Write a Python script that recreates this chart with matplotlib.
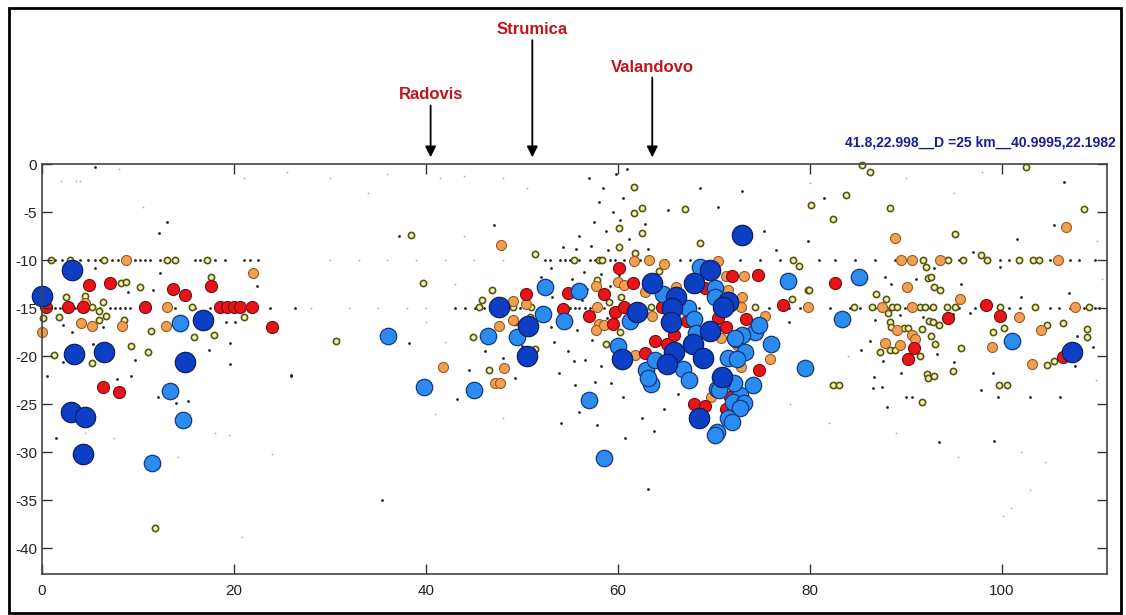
import matplotlib
matplotlib.use("Agg")
import matplotlib.pyplot as plt
import numpy as np
from matplotlib.patches import Rectangle

# hypocentres along the profile (distance km, depth km), grouped by magnitude class
dark_blue = [(0.0, -13.7), (3.1, -11.0), (3.3, -19.8), (3.0, -25.8), (4.5, -26.4), (4.3, -30.2),
             (6.5, -19.6), (16.8, -16.2), (14.9, -20.6), (47.6, -14.9), (50.7, -16.9), (50.5, -20.0),
             (60.4, -20.3), (62.0, -15.4), (72.9, -7.4), (69.6, -11.0), (68.0, -12.4), (63.6, -12.4),
             (66.1, -13.9), (65.7, -15.0), (71.5, -14.4), (71.0, -14.9), (65.6, -16.5), (69.6, -17.4),
             (67.8, -18.7), (68.9, -20.2), (65.9, -19.6), (65.1, -20.8), (70.9, -22.2), (68.5, -26.5),
             (107.3, -19.6)]

light_blue = [(14.4, -16.6), (13.3, -23.6), (14.7, -26.7), (11.5, -31.1), (36.1, -17.9),
              (39.8, -23.2), (45.0, -23.5), (46.5, -17.9), (49.5, -18.0), (52.2, -15.6), (54.4, -16.4),
              (52.4, -12.8), (56.0, -13.2), (57.0, -24.6), (58.6, -30.6), (60.0, -19.0),
              (64.7, -13.5), (67.3, -15.0), (68.0, -16.1), (70.1, -12.9), (70.1, -13.8), (68.6, -10.7),
              (77.7, -12.2), (61.3, -16.4), (62.9, -21.5), (63.5, -22.9), (66.8, -21.3), (67.4, -22.5),
              (63.9, -20.4), (68.2, -17.6), (72.3, -18.2), (74.3, -17.5), (74.7, -16.8), (76.0, -18.7),
              (73.3, -19.6), (71.5, -20.2), (72.4, -20.3), (74.1, -23.0), (70.3, -23.4), (72.7, -24.1),
              (72.0, -24.8), (73.2, -24.9), (72.7, -25.4), (71.5, -26.5), (71.9, -26.9), (70.3, -27.9),
              (70.1, -28.2), (79.5, -21.2), (72.9, -17.8), (72.1, -22.8), (70.9, -22.7), (63.2, -22.3),
              (70.6, -23.5), (72.2, -18.1), (85.1, -11.8), (83.4, -16.1), (101.1, -18.4)]

red = [(0.4, -14.9), (2.7, -14.9), (4.3, -14.9), (4.9, -12.6), (7.1, -12.4), (13.7, -13.0),
       (14.9, -13.6), (17.6, -12.7), (10.7, -14.9), (18.6, -14.9), (19.3, -14.9), (20.0, -14.9),
       (20.6, -14.9), (21.9, -14.9), (24.0, -17.0), (6.4, -23.2), (8.0, -23.7),
       (50.4, -13.5), (54.8, -13.4), (54.3, -15.1), (57.0, -15.8), (58.6, -13.5), (59.7, -15.4),
       (60.7, -14.9), (59.5, -16.7), (61.6, -12.4), (60.1, -10.8), (71.9, -11.7), (74.6, -11.6),
       (69.1, -12.9), (77.2, -14.7), (73.4, -16.1), (70.5, -16.0), (71.3, -17.0), (64.6, -14.9),
       (65.9, -17.8), (63.9, -18.4), (62.8, -19.7), (65.1, -18.7), (74.7, -21.5), (67.9, -25.0),
       (69.1, -25.2), (71.3, -25.5), (71.7, -24.3), (67.2, -16.3),
       (82.6, -12.4), (98.4, -14.7), (99.8, -15.8), (94.4, -16.0), (90.9, -19.2), (90.2, -20.3),
       (106.4, -20.1)]

orange = [(8.8, -10.0), (22.0, -11.3), (4.5, -14.5), (13.0, -14.9), (4.1, -16.6), (5.2, -16.9),
          (8.3, -16.9), (12.9, -16.9), (0.0, -17.5),
          (47.8, -8.4), (41.8, -21.1), (48.2, -21.2), (47.2, -22.8), (47.7, -22.8), (49.1, -16.2),
          (47.6, -16.9), (49.1, -14.3), (50.4, -14.6), (61.8, -19.9), (61.7, -10.1), (63.3, -10.0),
          (64.8, -10.4), (70.4, -10.1), (71.3, -11.7), (73.2, -11.7), (71.5, -13.1), (72.9, -13.9),
          (72.8, -14.9), (75.3, -15.8), (75.9, -20.3), (70.8, -18.1), (72.4, -18.9), (57.8, -14.9),
          (57.7, -12.7), (60.0, -12.3), (60.7, -12.6), (58.0, -16.7), (57.7, -17.3), (58.6, -16.8),
          (69.7, -24.3), (79.8, -14.9), (62.8, -13.3), (63.6, -15.8), (66.1, -12.8), (72.8, -21.1),
          (88.9, -7.7), (106.7, -6.6), (89.5, -10.0), (90.7, -10.0), (93.6, -10.0), (105.9, -10.0),
          (90.1, -12.8), (95.7, -14.1), (87.5, -14.9), (90.7, -14.9), (107.7, -14.9), (101.8, -15.9),
          (89.1, -17.3), (90.7, -17.8), (91.0, -18.2), (104.1, -17.3), (87.9, -18.6), (89.4, -18.8),
          (99.0, -19.1), (103.2, -20.8)]

yellow = [(0.9, -10.0), (2.9, -10.0), (6.5, -10.0), (13.0, -10.0), (13.9, -10.0), (17.2, -10.0),
          (8.2, -12.4), (8.8, -12.3), (10.2, -12.8), (17.6, -11.8), (2.5, -13.9), (4.5, -13.7),
          (5.2, -14.9), (5.9, -15.3), (6.4, -14.4), (1.8, -15.9), (5.9, -16.2), (6.7, -15.8),
          (8.5, -16.2), (11.4, -17.4), (15.6, -14.9), (15.8, -18.0), (17.9, -17.8), (21.0, -15.9),
          (9.3, -19.0), (11.0, -19.6), (1.2, -19.9), (5.2, -20.7), (0.1, -16.0), (30.6, -18.4),
          (11.8, -37.9),
          (38.5, -7.4), (39.7, -12.4), (44.9, -18.0), (45.5, -14.9), (45.9, -14.2), (46.9, -13.1),
          (51.4, -9.4), (55.4, -10.0), (58.1, -10.0), (58.4, -10.0), (61.7, -2.4), (61.7, -5.1),
          (62.5, -4.6), (60.1, -6.7), (62.5, -7.2), (60.1, -8.6), (61.8, -9.3), (67.0, -4.7),
          (68.6, -8.2), (64.3, -11.1), (74.3, -14.9), (57.8, -12.1), (60.3, -13.8), (59.1, -14.4),
          (51.0, -14.9), (49.1, -14.9), (50.9, -15.9), (49.3, -16.5), (58.8, -18.7), (60.2, -17.5),
          (63.5, -14.9), (46.6, -21.5), (51.4, -19.3), (78.3, -10.0), (78.9, -10.6), (78.2, -14.1),
          (79.8, -13.1),
          (85.5, -0.1), (86.3, -0.8), (102.6, -0.3), (83.8, -3.2), (80.1, -4.3), (82.4, -5.7),
          (88.4, -4.6), (108.6, -4.7), (95.2, -7.3), (91.8, -10.0), (94.4, -10.0), (96.0, -10.0),
          (97.9, -9.5), (98.5, -10.0), (101.8, -10.0), (103.3, -10.0), (103.9, -10.0), (92.1, -10.7),
          (92.3, -11.9), (92.7, -11.8), (93.0, -12.8), (93.6, -13.1), (79.9, -13.1), (86.9, -13.5),
          (88.0, -14.1), (84.6, -14.9), (86.5, -14.9), (88.6, -14.9), (89.1, -14.9), (91.5, -14.9),
          (92.0, -14.9), (92.9, -14.9), (94.3, -14.9), (95.2, -14.9), (99.8, -14.9), (103.5, -14.9),
          (109.1, -14.9), (88.2, -15.5), (88.4, -16.5), (88.5, -17.0), (89.8, -17.1), (90.3, -17.1),
          (91.7, -17.2), (92.4, -16.3), (92.9, -16.5), (93.5, -16.8), (91.1, -18.2), (92.6, -17.9),
          (93.1, -18.7), (88.4, -19.4), (88.9, -19.4), (87.3, -19.6), (91.5, -20.0), (95.8, -19.2),
          (99.1, -17.5), (100.3, -17.1), (104.7, -16.8), (106.4, -16.6), (108.9, -17.2), (108.9, -18.0),
          (104.7, -20.9), (105.5, -20.5), (94.9, -21.6), (92.2, -21.9), (92.3, -22.3), (82.4, -23.0),
          (99.7, -23.0), (83.1, -23.0), (91.7, -24.8), (93.0, -22.1), (100.6, -23.0)]

# small events: fixed-depth rows at 10 and 15 km plus scattered ones
row10_x = [1.4, 2.1, 4.0, 4.8, 5.5, 6.0, 7.3, 7.9, 9.7, 10.2, 10.7, 11.3, 12.3, 15.9, 16.5, 18.0,
           19.1, 21.1, 21.7, 22.5, 52.4, 52.9, 54.0, 54.5, 55.0, 56.0, 57.1, 57.6, 58.6, 59.2, 59.7,
           60.7, 62.3, 63.3, 64.9, 66.5, 67.5, 68.5, 70.6, 72.7, 74.8, 76.9, 81.0, 82.6, 84.7, 86.8,
           88.9, 90.4, 93.5, 95.6, 99.8, 100.8, 105.0, 107.1, 108.1, 109.7]
row15_x = [0.6, 1.4, 1.9, 3.4, 5.0, 6.0, 7.1, 7.6, 8.1, 8.6, 9.2, 10.2, 11.3, 12.8, 13.9, 15.9,
           17.5, 22.2, 23.8, 26.4, 43.0, 44.1, 45.1, 46.1, 46.7, 48.2, 49.8, 51.9, 54.0, 55.0, 55.5,
           56.0, 56.6, 57.1, 58.1, 58.6, 62.3, 64.4, 65.4, 67.5, 68.5, 70.6, 72.7, 75.8, 77.9, 79.0,
           82.1, 84.2, 85.2, 86.8, 88.3, 89.9, 90.4, 92.5, 94.1, 95.6, 97.2, 98.8, 100.8, 101.9,
           105.0, 106.0, 107.1, 108.6, 109.7, 110.2]
black = [(5.5, -0.3), (13.0, -6.0), (12.2, -7.2), (12.3, -11.3), (5.5, -10.8), (9.0, -13.3),
         (11.6, -13.1), (2.2, -16.8), (3.1, -17.5), (5.3, -18.7), (6.4, -17.0), (9.7, -20.4),
         (19.6, -18.6), (19.6, -20.8), (19.2, -16.5), (20.1, -16.5), (17.4, -19.4), (2.2, -20.6),
         (0.5, -22.1), (1.5, -28.5), (7.8, -22.4), (9.3, -22.1), (12.1, -24.3), (14.0, -24.9),
         (15.2, -24.7), (26.0, -22.1), (37.2, -7.5), (22.4, -12.7), (25.9, -22.0), (47.1, -6.4),
         (54.3, -8.6), (38.2, -18.6), (53.9, -21.8), (55.4, -20.5), (57.6, -22.7), (49.3, -22.3),
         (54.1, -27.0), (53.4, -18.5), (57.0, -1.5), (58.5, -2.5), (59.8, -1.0), (61.0, -0.5),
         (60.5, -3.5), (58.0, -4.0), (59.5, -5.0), (57.5, -6.0), (56.0, -7.5), (58.8, -7.0),
         (60.2, -5.8), (61.2, -7.8), (57.2, -8.5), (59.0, -9.0), (55.6, -8.8), (62.8, -6.2),
         (63.2, -8.8), (56.5, -11.2), (58.3, -11.5), (59.2, -12.7), (56.8, -13.0), (55.2, -12.0),
         (53.2, -13.8), (56.3, -14.2), (58.9, -16.0), (55.8, -17.3), (57.3, -18.3), (54.8, -19.5),
         (56.6, -20.4), (58.3, -21.0), (59.3, -22.8), (60.5, -24.3), (62.5, -26.5), (63.8, -27.8),
         (64.8, -25.5), (66.3, -24.0), (60.1, -11.6), (53.0, -10.8), (52.0, -11.8), (51.5, -16.5),
         (53.0, -17.0), (50.0, -19.0), (48.0, -20.2), (46.2, -19.5), (44.5, -21.5), (43.3, -24.5),
         (55.5, -23.0), (56.0, -25.8), (57.8, -27.2), (60.8, -28.5), (65.2, -4.8), (68.6, -2.5),
         (70.5, -4.5), (75.2, -7.0), (76.5, -9.0), (73.0, -2.8), (79.8, -8.0), (81.5, -3.5),
         (106.5, -1.9), (105.5, -6.4), (101.6, -7.8), (99.8, -10.7), (87.9, -11.8), (91.1, -12.0),
         (95.8, -12.5), (102.0, -13.8), (107.0, -13.4), (77.9, -16.5), (86.8, -16.2), (89.4, -15.7),
         (91.8, -15.9), (94.9, -15.6), (96.7, -15.5), (86.3, -18.4), (85.4, -19.4), (87.6, -20.5),
         (93.3, -19.8), (95.0, -20.6), (97.9, -23.5), (99.1, -21.8), (107.7, -21.0), (109.5, -19.1),
         (107.9, -17.9), (89.5, -21.8), (86.6, -23.3), (90.0, -24.3), (86.7, -22.2), (87.5, -23.2),
         (88.1, -25.3), (90.7, -24.3), (93.5, -29.0), (99.6, -24.3), (103.0, -24.3), (106.1, -24.3),
         (99.2, -28.8), (63.2, -33.8), (35.4, -35.0), (97.0, -9.2), (93.0, -10.8), (88.5, -12.5)]
faint = [(2.0, -1.8), (3.5, -1.8), (4.0, -1.8), (10.5, -4.5), (8.0, -0.5), (25.5, -0.8), (21.0, -1.5),
         (30.0, -1.5), (36.0, -1.0), (41.5, -1.5), (44.0, -1.2), (48.0, -1.5), (50.5, -2.5),
         (34.0, -3.0), (44.0, -7.5), (43.0, -12.5), (40.0, -16.5), (42.0, -18.5), (20.8, -38.8),
         (12.3, -31.5), (14.2, -30.5), (7.5, -28.5), (4.5, -28.0), (18.0, -28.0), (19.5, -28.2),
         (24.0, -30.2), (41.0, -26.0), (48.0, -26.5), (31.0, -18.2), (28.0, -15.0), (32.0, -15.0),
         (35.0, -15.0), (38.0, -15.0), (40.0, -15.0), (30.0, -10.0), (33.0, -10.0), (36.0, -10.0),
         (39.0, -10.0), (42.0, -10.0), (45.0, -10.0), (48.0, -10.0), (78.0, -25.0), (82.0, -27.0),
         (89.0, -28.0), (95.5, -30.5), (102.0, -30.0), (104.5, -31.0), (103.0, -34.0),
         (100.2, -36.7), (101.0, -35.8), (84.0, -20.0), (80.0, -2.0), (90.0, -1.5), (95.0, -3.0),
         (98.0, -0.8), (110.0, -8.0), (110.5, -12.0), (109.8, -22.5)]

towns = ["Radovis", "Strumica", "Valandovo"]
town_x = [40.5, 51.1, 63.6]
town_label_y = [7.2, 14.0, 10.1]
title = "41.8,22.998__D =25 km__40.9995,22.1982"

plt.rcParams['font.family'] = ['Liberation Sans Narrow', 'Liberation Sans', 'DejaVu Sans']
plt.rcParams['axes.unicode_minus'] = False

fig = plt.figure(figsize=(11.26, 6.15), dpi=100)
ax = fig.add_axes([0.0373, 0.0667, 0.9459, 0.6666])


def plot_group(pts, **kw):
    a = np.array(pts)
    ax.scatter(a[:, 0], a[:, 1], clip_on=False, **kw)


plot_group(faint, s=1.5, c='#aaaaaa', linewidths=0)
plot_group([(x, -10.0) for x in row10_x] + [(x, -15.0) for x in row15_x] + black,
           s=4, c='#222222', linewidths=0)
plot_group(yellow, s=20, c='#f6f4a8', edgecolors='#55551a', linewidths=1.2)
plot_group(orange, s=52, c='#f0a050', edgecolors='#9a5a20', linewidths=0.8)
plot_group(red, s=75, c='#e8141a', edgecolors='#7a0a0a', linewidths=0.8)
plot_group(light_blue, s=140, c='#2a8cf0', edgecolors='#14387a', linewidths=0.9)
plot_group(dark_blue, s=215, c='#0d3fc4', edgecolors='#0a1e66', linewidths=0.9)

ax.set_xlim(0, 111)
ax.set_ylim(-42.7, 0)
ax.set_xticks([0, 20, 40, 60, 80, 100])
ax.set_yticks([0, -5, -10, -15, -20, -25, -30, -35, -40])
ax.tick_params(direction='in', top=True, right=True, length=7, width=1, color='#333333',
               labelcolor='#222222', labelsize=11)
ax.tick_params(axis='x', pad=7)
for sp in ax.spines.values():
    sp.set_color('#444444')
    sp.set_linewidth(1.2)

for name, x, ly in zip(towns, town_x, town_label_y):
    ax.annotate('', xy=(x, 0.7), xytext=(x, ly - 1.1), annotation_clip=False,
                arrowprops=dict(arrowstyle='-|>', color='black', lw=1.3, mutation_scale=16,
                                shrinkA=0, shrinkB=0))
    ax.text(x, ly, name, ha='center', va='center', color='#c0141c', fontsize=12,
            fontweight='bold', family=['Liberation Sans', 'DejaVu Sans'], clip_on=False)

fig.text(0.991, 0.768, title, ha='right', va='center', color='#1c1c96', fontsize=10,
         fontweight='bold', family=['Liberation Sans', 'DejaVu Sans'])

fig.patches.append(Rectangle((9 / 1126, 2 / 615), 1112 / 1126, 605 / 615, transform=fig.transFigure,
                             fill=False, edgecolor='black', linewidth=2))

fig.savefig('out.png', dpi=100)
